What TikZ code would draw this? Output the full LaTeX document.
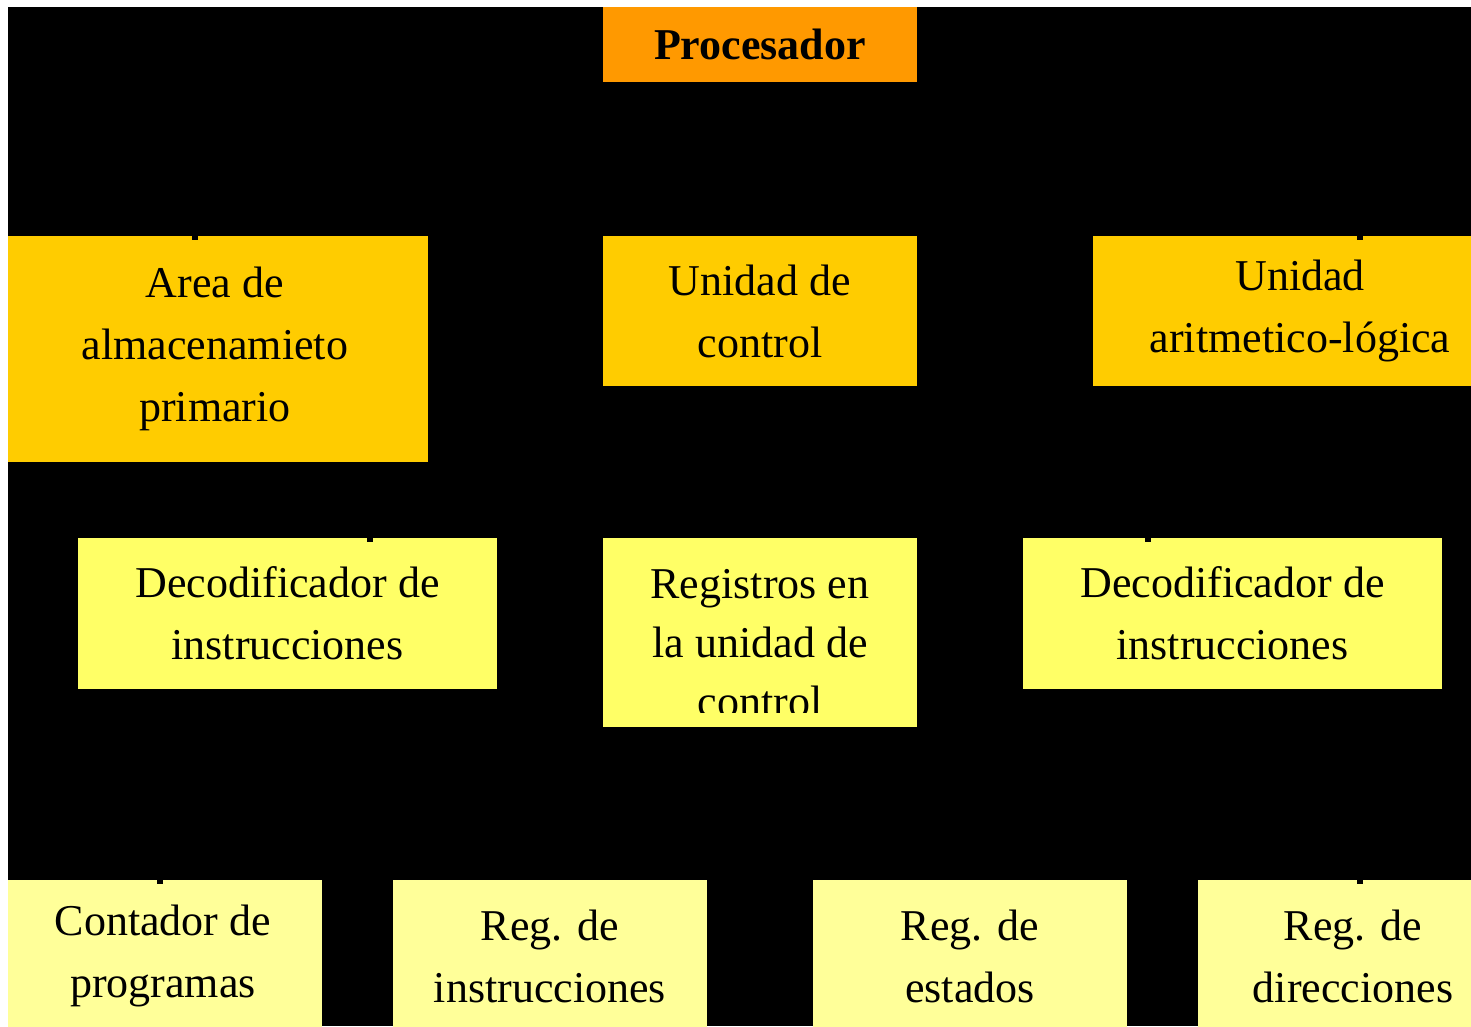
\documentclass[tikz,border=0pt]{standalone}
\usepackage{fontspec}
\setmainfont{Liberation Serif}
\definecolor{cproc}{HTML}{FF9900}
\definecolor{clev1}{HTML}{FFCC00}
\definecolor{clev2}{HTML}{FFFF66}
\definecolor{clev3}{HTML}{FFFF99}
\begin{document}
\begin{tikzpicture}[x=1pt,y=-1pt,
  box/.style={rectangle, inner sep=0pt, outer sep=0pt, align=center,
    font=\fontsize{44}{62}\selectfont, text=black},
  conn/.style={draw=black, line width=6pt, shorten >=-4pt}]
\useasboundingbox (0,0) rectangle (1471,1026);
\fill[white] (0,0) rectangle (1471,1026);
\fill[black] (8,7) rectangle (1471,1026);
\begin{scope}
\clip (8,7) rectangle (1471,1026);
\node[box, fill=cproc, minimum width=314pt, minimum height=75pt,
  font=\fontsize{44}{62}\selectfont\bfseries] (proc) at (760,44.5) {Procesador};
\node[box, fill=clev1, minimum width=426pt, minimum height=226pt] (area) at (215,349)
  {Area de\\almacenamieto\\primario};
\node[box, fill=clev1, minimum width=314pt, minimum height=150pt] (uc) at (760,311)
  {Unidad de\\control};
\node[box, fill=clev1, minimum width=414pt, minimum height=150pt] (alu) at (1300,311)
  {Unidad\\aritmetico-lógica};
\node[box, fill=clev2, minimum width=419pt, minimum height=151pt] (dec1) at (287.5,613.5)
  {Decodificador de\\instrucciones};
\node[box, fill=clev2, minimum width=314pt, minimum height=189pt] (reg) at (760,632.5) {};
\node[box, fill=clev2, minimum width=419pt, minimum height=151pt] (dec2) at (1232.5,613.5)
  {Decodificador de\\instrucciones};
\node[box, fill=clev3, minimum width=318pt, minimum height=152pt] (cont) at (163,956)
  {Contador de\\programas};
\node[box, fill=clev3, minimum width=314pt, minimum height=152pt] (ri) at (550,956)
  {Reg. de\\instrucciones};
\node[box, fill=clev3, minimum width=314pt, minimum height=152pt] (re) at (970,956)
  {Reg. de\\estados};
\node[box, fill=clev3, minimum width=310pt, minimum height=152pt] (rd) at (1353,956)
  {Reg. de\\direcciones};
\begin{scope}
\clip (reg.north west) rectangle ([yshift=15pt]reg.south east);
\node[box, font=\fontsize{44}{59}\selectfont] (regtext) at (760,643)
  {Registros en\\la unidad de\\control};
\end{scope}
\draw[conn] (proc.south) -- ++(0,78) -| ([xshift=-20pt]area.north);
\draw[conn] (proc.south) -- ++(0,78) -| ([xshift=60pt]alu.north);
\draw[conn] ([xshift=155pt]area.south) -- ([xshift=82.5pt]dec1.north);
\draw[conn] ([xshift=-152pt]alu.south) -- ([xshift=-84.5pt]dec2.north);
\draw[conn] ([xshift=-127.5pt]dec1.south) -- ([xshift=-3pt]cont.north);
\draw[conn] ([xshift=127.5pt]dec2.south) -- ([xshift=7pt]rd.north);
\end{scope}
\end{tikzpicture}
\end{document}
